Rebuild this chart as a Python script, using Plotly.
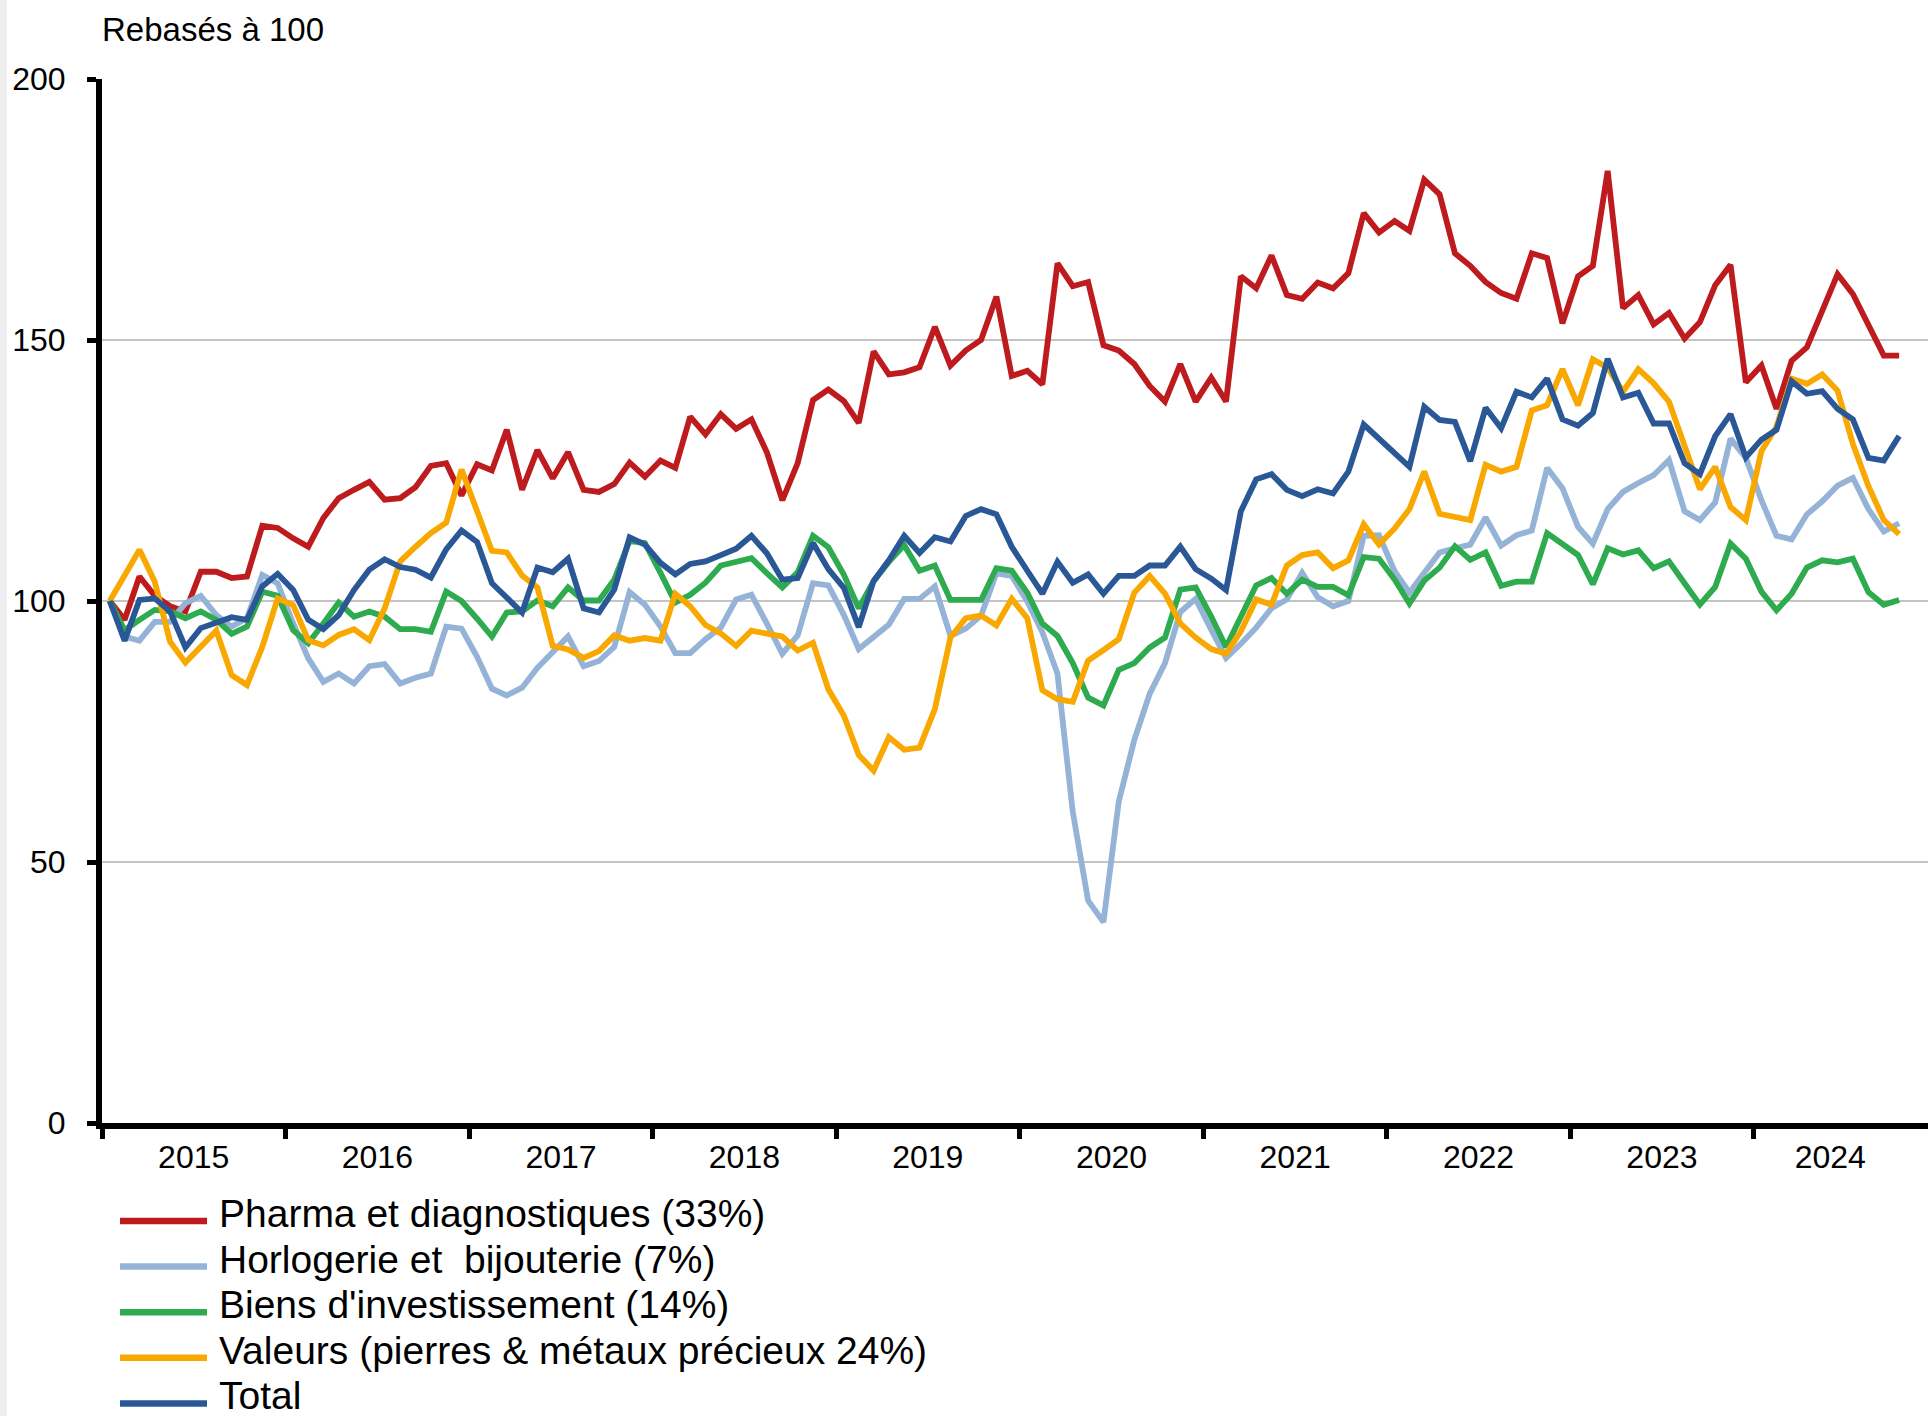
import pandas as pd
import plotly.graph_objects as go

# Monthly observations, Jan 2015 .. Oct 2024 (118 months), rebased to 100
months = pd.date_range("2015-01-01", periods=118, freq="MS").strftime("%Y-%m-%d").tolist()

pharma = [
    100, 96.4, 104.7, 101, 99, 98, 105.6, 105.6, 104.4, 104.7,
    114.4, 114, 112, 110.4, 115.9, 119.7, 121.3, 122.8, 119.4, 119.7,
    121.8, 125.9, 126.4, 120.2, 126.2, 125, 132.8, 121.3, 128.9, 123.5,
    128.5, 121.3, 120.9, 122.4, 126.5, 123.8, 126.9, 125.5, 135.3, 131.9,
    135.8, 133, 134.8, 128.4, 119.3, 126.4, 138.5, 140.5, 138.3, 134.1,
    147.8, 143.4, 143.8, 144.8, 152.5, 145.1, 148, 150, 158.3, 143.1,
    144.1, 141.5, 164.7, 160.3, 161.1, 149, 148, 145.4, 141.2, 138.2,
    145.4, 138.2, 142.8, 138.2, 162.2, 159.9, 166.2, 158.6, 157.9, 161,
    159.9, 162.8, 174.3, 170.6, 172.8, 170.9, 180.7, 177.9, 166.6, 164.2,
    161.1, 159, 157.9, 166.6, 165.7, 153.2, 162.2, 164.2, 182.4, 156.1,
    158.6, 153, 155.2, 150.3, 153.4, 160.5, 164.4, 141.9, 145.1, 136.8,
    146, 148.6, 155.6, 162.6, 158.8, 153, 147, 147,
]

horlogerie = [
    100, 93.2, 92.4, 96, 96, 99.6, 101, 97.3, 95.1, 96.7,
    105, 103.4, 95.7, 89, 84.5, 86.1, 84.2, 87.5, 87.9, 84.2,
    85.3, 86.1, 95.1, 94.7, 89.3, 83.2, 81.9, 83.4, 87.2, 90.2,
    93.2, 87.5, 88.5, 91.2, 101.7, 99.3, 95.1, 90, 90, 92.7,
    94.9, 100.3, 101.2, 95.6, 89.9, 93.4, 103.4, 103, 97.3, 90.8,
    93, 95.5, 100.4, 100.4, 102.8, 93.3, 94.7, 97.2, 105.3, 104.8,
    99.9, 94, 86.1, 59.6, 42.6, 38.5, 61.6, 73.4, 82.2, 88.1,
    97.9, 100.4, 94.5, 89.1, 91.8, 94.9, 98.6, 100.3, 105.4, 100.7,
    99, 100, 112.5, 112.6, 105.7, 101.6, 105.4, 109.3, 110.1, 110.8,
    116, 110.6, 112.6, 113.5, 125.5, 121.6, 114.2, 111, 117.6, 120.9,
    122.6, 124.1, 127, 117.2, 115.5, 118.9, 131.1, 127.4, 119.3, 112.5,
    111.8, 116.6, 119.1, 122.1, 123.6, 117.6, 113.3, 114.9,
]

biens = [
    100, 94.4, 96.4, 98.3, 98, 96.7, 98, 96.4, 93.7, 95.1,
    101.8, 101, 94.4, 91.9, 95.7, 99.7, 97, 98, 97, 94.6,
    94.6, 94.1, 101.8, 100, 96.6, 93.2, 97.8, 98, 100.1, 99,
    102.6, 100.1, 100.1, 104.1, 111.5, 111.1, 105.4, 99.7, 101.2, 103.5,
    106.8, 107.6, 108.2, 105.3, 102.6, 105.5, 112.5, 110.3, 105, 98.6,
    103.8, 107.5, 110.7, 105.8, 106.8, 100.2, 100.2, 100.2, 106.3, 105.8,
    101.6, 95.7, 93.3, 88.1, 81.5, 80, 86.8, 88.1, 91.1, 93,
    102.2, 102.6, 97, 91.2, 97, 103, 104.4, 101.4, 104.1, 102.7,
    102.7, 101.1, 108.4, 108.1, 104.1, 99.5, 103.9, 106.4, 110.5, 107.9,
    109.3, 102.9, 103.7, 103.7, 113, 110.8, 108.8, 103.2, 110.1, 108.9,
    109.7, 106.3, 107.6, 103.4, 99.3, 102.7, 111, 108.1, 101.8, 98.2,
    101.4, 106.4, 107.8, 107.4, 108.1, 101.7, 99.3, 100.2,
]

valeurs = [
    100, 105, 109.8, 103.7, 92.2, 88.2, 91.2, 94.3, 85.8, 83.9,
    91.2, 100.5, 99.2, 92.5, 91.5, 93.5, 94.6, 92.5, 98.6, 107.6,
    110.4, 113, 115, 125.2, 117.2, 109.6, 109.3, 104.9, 102.6, 91.4,
    90.7, 89.1, 90.4, 93.4, 92.4, 92.9, 92.4, 101.4, 99, 95.4,
    93.8, 91.4, 94.3, 93.8, 93.2, 90.5, 92, 83.1, 78, 70.5,
    67.5, 73.9, 71.5, 71.9, 79.3, 93, 96.7, 97.2, 95.3, 100.4,
    96.7, 82.9, 81.2, 80.7, 88.6, 90.6, 92.7, 101.6, 104.8, 101.4,
    95.7, 93, 90.8, 89.9, 94.2, 100.3, 99.3, 106.8, 108.8, 109.3,
    106.3, 107.8, 114.7, 110.8, 113.9, 117.6, 124.8, 116.7, 116, 115.5,
    126.1, 124.8, 125.7, 136.5, 137.5, 144.4, 137.5, 146.3, 144.7, 140.1,
    144.4, 141.7, 138.2, 129.4, 121.4, 125.7, 118, 115.5, 128.7, 133.4,
    142.6, 141.6, 143.4, 140.3, 130.1, 122, 115.5, 112.8,
]

total = [
    100, 92.4, 100.2, 100.5, 98, 91.1, 94.8, 96, 96.9, 96.4,
    102.8, 105.2, 102.1, 96.4, 94.6, 97.3, 102.1, 106, 108, 106.5,
    106, 104.5, 109.9, 113.5, 111.3, 103.4, 100.5, 97.8, 106.4, 105.5,
    108.1, 98.6, 97.8, 102.2, 112.2, 110.8, 107.3, 105.1, 107.1, 107.6,
    108.8, 110, 112.5, 109.1, 104.1, 104.4, 111.1, 106.1, 102.5, 95,
    103.8, 107.8, 112.5, 109.2, 112.2, 111.4, 116.3, 117.6, 116.6, 110.4,
    105.8, 101.4, 107.5, 103.5, 105.1, 101.4, 104.8, 104.8, 106.8, 106.8,
    110.4, 106.1, 104.3, 102.1, 117.2, 123.3, 124.3, 121.3, 120.1, 121.4,
    120.6, 124.8, 133.8, 131.1, 128.4, 125.7, 137.2, 134.7, 134.3, 126.8,
    137, 133.1, 140.1, 139, 142.6, 134.8, 133.6, 136, 146.4, 139,
    139.9, 134, 134, 126.4, 124.3, 131.6, 135.8, 127.5, 130.9, 132.8,
    142.1, 139.7, 140.2, 136.8, 134.8, 127.4, 126.9, 131.6,
]

series_names = [
    "Pharma et diagnostiques (33%)",
    "Horlogerie et \u00a0bijouterie (7%)",
    "Biens d'investissement (14%)",
    "Valeurs (pierres & métaux précieux 24%)",
    "Total",
]
series_values = [pharma, horlogerie, biens, valeurs, total]
series_colors = ["#BE1B1F", "#95B3D7", "#2EAB4F", "#F8A800", "#2A5896"]

y_ticks = [0, 50, 100, 150, 200]
y_title = "Rebasés à 100"
x_range = ["2015-01-01", "2024-12-13"]

for s in series_values:
    assert len(s) == len(months)

# Year labels centred over the months of each year present in the data
month_ts = pd.to_datetime(pd.Series(months))
year_labels, year_centres = [], []
for yr, grp in month_ts.groupby(month_ts.dt.year):
    start = grp.iloc[0]
    end = grp.iloc[-1] + pd.offsets.MonthBegin(1)
    year_labels.append(str(yr))
    year_centres.append((start + (end - start) / 2).strftime("%Y-%m-%d %H:%M:%S"))

FONT = "Liberation Sans, Arial, sans-serif"
W, H = 1928, 1416
ML, MR, MT, MB = 102, 0, 79, 293
PW, PH = W - ML - MR, H - MT - MB


def px_x(x):
    return (x - ML) / PW


def px_y(y):
    return (H - MB - y) / PH


fig = go.Figure()
for name, vals, col in zip(series_names, series_values, series_colors):
    fig.add_trace(go.Scatter(
        x=months, y=vals, name=name, mode="lines",
        xperiod="M1", xperiodalignment="middle",
        line=dict(color=col, width=5.8),
        showlegend=False,
    ))

shapes = [dict(type="rect", xref="paper", yref="paper",
               x0=px_x(0), x1=px_x(7), y0=px_y(H), y1=px_y(0),
               fillcolor="#EEEEEE", line=dict(width=0), layer="below")]
annotations = [dict(text=y_title, xref="paper", yref="paper",
                    x=px_x(100), y=px_y(29), xanchor="left", yanchor="middle",
                    showarrow=False, font=dict(family=FONT, size=33, color="black"))]

LEG_FS = 39
for k, (name, col) in enumerate(zip(series_names, series_colors)):
    ly = 1221 + k * 45.6          # legend line centre (px)
    base = 1226.7 + k * 45.4      # text baseline (px)
    shapes.append(dict(type="line", xref="paper", yref="paper",
                       x0=px_x(120), x1=px_x(207), y0=px_y(ly), y1=px_y(ly),
                       line=dict(color=col, width=6.5)))
    ann = dict(text=name, xref="paper", yref="paper",
               x=px_x(218), y=px_y(base - 0.905 * LEG_FS), xanchor="left", yanchor="top",
               borderpad=0, showarrow=False,
               font=dict(family=FONT, size=LEG_FS, color="black"))
    if k == len(series_names) - 1:
        ann.update(height=41, valign="top")
    annotations.append(ann)

fig.update_layout(
    width=W, height=H,
    margin=dict(l=ML, r=MR, t=MT, b=MB, pad=0),
    paper_bgcolor="white", plot_bgcolor="white",
    font=dict(family=FONT, color="black", size=32),
    showlegend=False,
    shapes=shapes,
    annotations=annotations,
    xaxis=dict(
        type="date", range=x_range,
        tickmode="array", tickvals=year_centres, ticktext=year_labels,
        ticks="", ticklen=0,
        minor=dict(tick0="2015-01-01", dtick="M12", ticks="outside",
                   ticklen=10, tickwidth=5, tickcolor="black", showgrid=False),
        showgrid=False, zeroline=False,
        showline=True, linecolor="black", linewidth=6,
        tickfont=dict(family=FONT, size=32, color="black"),
        ticklabelstandoff=1,
    ),
    yaxis=dict(
        range=[0, 200], tickmode="array", tickvals=y_ticks,
        showgrid=True, gridcolor="#C4C4C4", gridwidth=2, zeroline=False,
        showline=True, linecolor="black", linewidth=6,
        ticks="outside", ticklen=9, tickwidth=5, tickcolor="black",
        tickfont=dict(family=FONT, size=32, color="black"),
        ticklabelstandoff=15,
    ),
)

fig.write_html(
    "out.html",
    config={"displayModeBar": False},
    post_script="document.body.style.margin='0';document.body.style.overflow='hidden';",
)
